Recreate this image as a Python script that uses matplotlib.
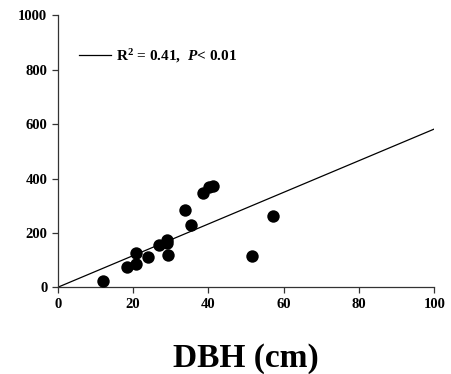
import numpy as np
import matplotlib.pyplot as plt

# DBH (cm) vs response
dbh = [12.1, 18.4, 20.9, 20.9, 23.9, 26.9, 28.9, 28.9, 29.2, 33.9, 35.5, 38.6, 40.3, 41.3, 51.7, 57.1]
val = [23, 75, 84, 125, 110, 154, 173, 164, 120, 285, 228, 346, 368, 371, 116, 261]
slope = 5.82  # fitted line through origin
fit_x = [0, 100]

plt.rcParams['font.family'] = ['Liberation Serif', 'DejaVu Serif']
plt.rcParams['font.weight'] = 'bold'
plt.rcParams['mathtext.fontset'] = 'custom'
plt.rcParams['mathtext.rm'] = 'Liberation Serif:bold'
plt.rcParams['mathtext.bf'] = 'Liberation Serif:bold'
plt.rcParams['mathtext.it'] = 'Liberation Serif:italic:bold'

fig = plt.figure(figsize=(4.52, 3.74), dpi=100)
ax = fig.add_axes([0.1277, 0.2318, 0.8331, 0.7272])

ax.scatter(dbh, val, s=80, color='black', zorder=3, linewidths=0)
line, = ax.plot(fit_x, [slope * x for x in fit_x], color='black', lw=0.9)

ax.set_xlim(0, 100)
ax.set_ylim(0, 1000)
ax.set_xticks(np.arange(0, 101, 20))
ax.set_yticks(np.arange(0, 1001, 200))
for s in ['top', 'right']:
    ax.spines[s].set_visible(False)
for s in ['left', 'bottom']:
    ax.spines[s].set_linewidth(0.9)
    ax.spines[s].set_color('#333333')
ax.tick_params(direction='out', length=4, width=0.9, labelsize=10.5, color='#333333')
for lbl in ax.get_xticklabels() + ax.get_yticklabels():
    lbl.set_fontweight('bold')

ax.set_xlabel('DBH (cm)', fontsize=24, fontweight='bold', labelpad=23)

ax.legend([line], [r'R$^{2}$ = 0.41,  $\it{P}$< 0.01'], loc='center left',
          bbox_to_anchor=(0.057, 0.852), frameon=False, handlelength=2.1,
          handletextpad=0.3, borderpad=0, borderaxespad=0,
          prop={'size': 11, 'weight': 'bold'})

fig.savefig('out.png', dpi=100)
